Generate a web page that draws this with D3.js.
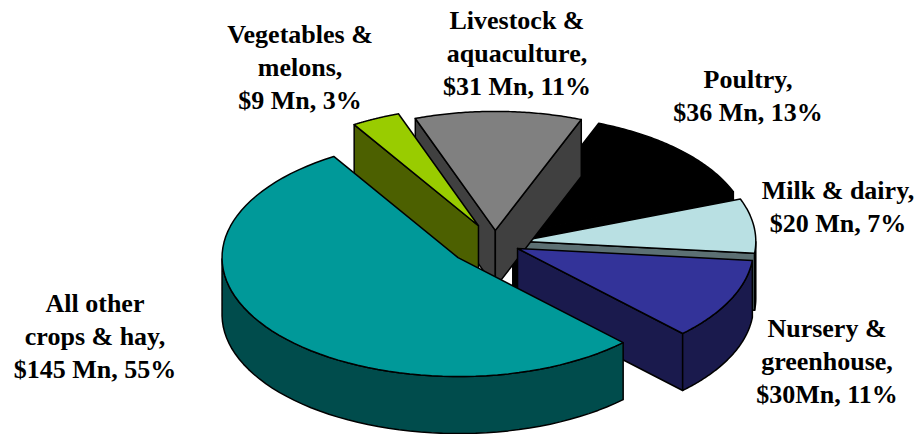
<!DOCTYPE html>
<html>
<head>
<meta charset="utf-8">
<style>html,body{margin:0;padding:0;background:#fff}svg{display:block}text{font-family:"Liberation Serif",serif;font-weight:700;font-size:26px;fill:#000}</style>
<script src="https://cdn.jsdelivr.net/npm/d3@7/dist/d3.min.js"></script>
</head>
<body>
<script>
// Data
const categories = ["All other crops & hay","Vegetables & melons","Livestock & aquaculture","Poultry","Milk & dairy","Nursery & greenhouse"];
const values = [145, 9, 31, 36, 20, 30];
const labelLines = [
  ["All other","crops & hay,","$145 Mn, 55%"],
  ["Vegetables &","melons,","$9 Mn, 3%"],
  ["Livestock &","aquaculture,","$31 Mn, 11%"],
  ["Poultry,","$36 Mn, 13%"],
  ["Milk & dairy,","$20 Mn, 7%"],
  ["Nursery &","greenhouse,","$30Mn, 11%"]
];

// Styles and layout
const topColors  = ["#009999","#99cc00","#808080","#000000","#b9e0e3","#333399"];
const sideColors = ["#004c4c","#4c6000","#404040","#000000","#5c7073","#1a1a4d"];
const explode    = [0.199, 0.161, 0.106, 0.106, 0.106, 0.106];
const paintOrder = [3, 4, 2, 1, 5, 0];
const labelX     = [95, 300, 517, 748, 838, 827];
const labelY     = [312, 43, 29, 88, 199, 337];
const lineStep = 33.2, W = 914, H = 434;
const cx = 495, cy = 243, rx = 236, ry = 119, depth = 57;
const startDeg = 135.6;

const x = d3.scaleLinear().domain([-1,1]).range([cx-rx, cx+rx]);
const y = d3.scaleLinear().domain([-1,1]).range([cy-ry, cy+ry]);

const svg = d3.select("body").append("svg").attr("width",W).attr("height",H);

const pie = d3.pie().sort(null).value(d=>d)
  .startAngle(startDeg*Math.PI/180).endAngle((startDeg+360)*Math.PI/180);
const arcs = pie(values);

const line = d3.line().x(d=>d[0]).y(d=>d[1]);
const closed = pts => line(pts)+"Z";

// d3.pie angle: 0 at 12 o'clock, clockwise. Projected onto the tilted disc.
function pt(a, e, r, dz){
  const ox = e*Math.sin(a.mid), oy = -e*Math.cos(a.mid);
  return [x(ox + r*Math.sin(a.ang)), y(oy - r*Math.cos(a.ang)) + dz];
}

const g = svg.append("g")
  .attr("stroke","#000").attr("stroke-width",1.5).attr("stroke-linejoin","round");

paintOrder.forEach(i=>{
  const s = arcs[i], e = explode[i];
  const mid = (s.startAngle+s.endAngle)/2;
  const P = (ang,r,dz)=>pt({mid,ang},e,r,dz);
  const angs = d3.range(0,73).map(k=>s.startAngle+(s.endAngle-s.startAngle)*k/72);
  const rim = angs.map(a=>P(a,1,0));

  // radial walls, only those that face the viewer
  if(Math.sin(s.startAngle)<0){
    const a = s.startAngle;
    g.append("path").attr("fill",sideColors[i])
      .attr("d",closed([P(a,0,0),P(a,1,0),P(a,1,depth),P(a,0,depth)]));
  }
  if(Math.sin(s.endAngle)>0){
    const a = s.endAngle;
    g.append("path").attr("fill",sideColors[i])
      .attr("d",closed([P(a,0,0),P(a,1,0),P(a,1,depth),P(a,0,depth)]));
  }
  // outer wall, only the part that faces the viewer
  const vis = angs.filter(a=>Math.cos(a)<0);
  if(vis.length>1){
    const up = vis.map(a=>P(a,1,0));
    const dn = vis.map(a=>P(a,1,depth)).reverse();
    g.append("path").attr("fill",sideColors[i]).attr("d",closed(up.concat(dn)));
  }
  // top face
  g.append("path").attr("fill",topColors[i]).attr("d",closed([P(s.startAngle,0,0)].concat(rim)));
});

const lg = svg.append("g");
labelLines.forEach((lines,i)=>{
  const t = lg.append("text").attr("text-anchor","middle").attr("data-category",categories[i]);
  lines.forEach((l,k)=>{
    t.append("tspan").attr("x",labelX[i]).attr("y",labelY[i]+k*lineStep).text(l);
  });
});
</script>
</body>
</html>
